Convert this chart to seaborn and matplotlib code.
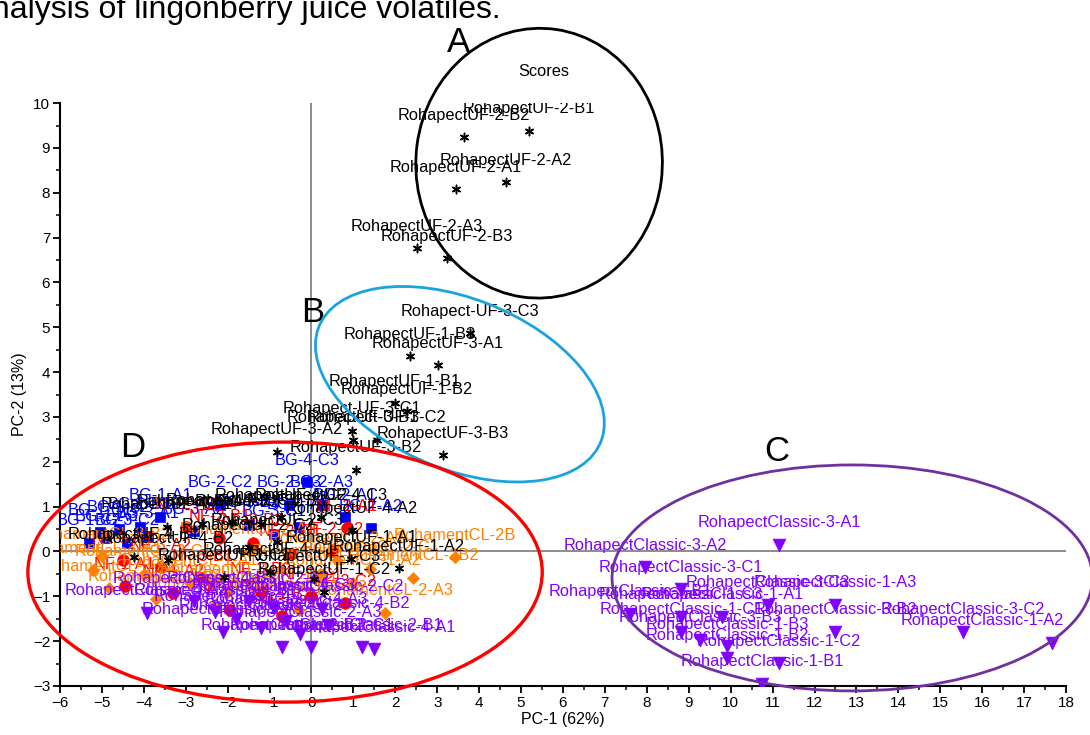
import matplotlib.pyplot as plt
import pandas as pd
import seaborn as sns
from matplotlib.patches import Ellipse
from matplotlib.ticker import MultipleLocator

# Scores (PC-1, PC-2), one block per sample series

bg_names = [
    "BG-4-C3", "BG-2-A3", "BG-2-A1", "BG-2-A2", "BG-2-C2", "BG-2-C3",
    "BG-1-A1", "BG-1-B1", "BG-1-B2", "BG-1-C1", "BG-1-C2", "BG-1-A3",
    "BG-3-A1", "BG-3-A2", "BG-3-B1", "BG-3-C1", "BG-3-C2", "BG-4-A1",
]
bg_pc1 = [-0.11, 0.25, 0.80, 1.42, -2.18, -0.54, -3.61, -4.10, -4.60, -5.05,
          -5.30, -4.90, -3.90, -2.80, -1.50, -0.90, -4.40, -0.30]
bg_pc2 = [1.55, 1.04, 0.77, 0.52, 1.04, 1.04, 0.77, 0.55, 0.50, 0.43,
          0.20, 0.30, 0.35, 0.45, 0.60, 0.40, 0.20, 0.55]

nf_names = [
    "NF-1-A1", "NF-1-A2", "NF-1-B1", "NF-1-B2", "NF-2-A1", "NF-2-A2",
    "NF-2-B1", "NF-2-B2", "NF-2-C1", "NF-2-C2", "NF-3-A1", "NF-3-A2",
    "NF-3-B1", "NF-3-B2", "NF-3-C1", "NF-3-C2",
]
nf_pc1 = [-4.46, -3.30, -1.95, -0.70, 0.85, -3.00, -2.20, -1.40, -0.50, 0.50,
          -4.50, -3.60, -2.60, -1.20, 0.00, 0.80]
nf_pc2 = [-0.78, -0.93, -1.30, -1.45, 0.52, 0.55, 0.30, 0.20, -0.05, 0.00,
          -0.20, -0.35, -0.60, -0.90, -1.00, -1.15]

cl_names = [
    "RohamentCL-2B", "RohamentCL-2B2", "RohamentCL-2-A3", "RohamentCL-3-A1",
    "RohamentCL-3-A2", "RohamentCL-3-B1", "RohamentCL-3-B2", "RohamentCL-3-C1",
    "RohamentCL-1-A1", "RohamentCL-1-A3", "RohamentCL-1-B1", "RohamentCL-1-B2",
    "RohamentCL-1-A2", "RohamentCL-2-A1", "RohamentCL-2-C1", "RohamentCL-2-C2",
    "RohamentCL-1-C1", "RohamentCL-2-A2",
]
cl_pc1 = [3.43, 2.43, 1.75, -5.20, -4.82, -3.70, -5.00, -4.00, -2.90, -2.00,
          -1.00, 0.20, 1.00, 0.60, 1.40, -0.30, -2.30, -1.50]
cl_pc2 = [-0.13, -0.59, -1.37, -0.42, -0.82, -1.05, -0.10, -0.50, -0.70, -0.90,
          -1.10, -0.50, -0.70, -0.20, -0.40, -1.30, -1.20, 0.00]

classic_names = [
    # group D
    "RohapectClassic-4-A2", "RohapectClassic-2-A1", "RohapectClassic-2-B2",
    "RohapectClassic-2-C1", "RohapectClassic-2-B1", "RohapectClassic-4-A1",
    "RohapectClassic-4-B2", "RohapectClassic-2-C2", "RohapectClassic-2-A3",
    "RohapectClassic-4-B1", "RohapectClassic-4-C1", "RohapectClassic-4-C2",
    "RohapectClassic-4-A3", "RohapectClassic-4-B3", "RohapectClassic-2-A2",
    "RohapectClassic-4-C3",
    # group C
    "RohapectClassic-3-A1", "RohapectClassic-3-A2", "RohapectClassic-3-C1",
    "RohapectClassic-3-C3", "RohapectClassic-1-A3", "RohapectClassic-3-B1",
    "RohapectClassic-1-C3", "RohapectClassic-1-A1", "RohapectClassic-3-B2",
    "RohapectClassic-3-C2", "RohapectClassic-1-C1", "RohapectClassic-3-B3",
    "RohapectClassic-1-B3", "RohapectClassic-1-B2", "RohapectClassic-1-C2",
    "RohapectClassic-1-B1", "RohapectClassic-1-A2",
]
classic_pc1 = [-3.93, -2.11, -0.70, 0.00, 1.20, 1.49, 0.40, 0.25, -0.27, -2.30,
               -1.80, -1.20, -0.60, -2.80, -1.50, -0.90,
               11.16, 7.96, 8.82, 10.89, 12.49, 7.60, 8.82, 9.80, 12.49, 15.55,
               8.82, 9.27, 9.92, 9.92, 11.16, 10.75, 17.67]
classic_pc2 = [-1.37, -1.79, -2.13, -2.13, -2.14, -2.18, -1.65, -1.28, -1.84, -1.35,
               -1.50, -1.70, -1.55, -1.10, -1.10, -1.25,
               0.15, -0.35, -0.84, -1.19, -1.19, -1.39, -1.46, -1.46, -1.79, -1.79,
               -1.79, -1.97, -2.11, -2.37, -2.49, -2.95, -2.04]

uf_names = [
    # group A
    "RohapectUF-2-B2", "RohapectUF-2-B1", "RohapectUF-2-A2", "RohapectUF-2-A1",
    "RohapectUF-2-A3", "RohapectUF-2-B3",
    # group B
    "Rohapect-UF-3-C3", "RohapectUF-1-B3", "RohapectUF-3-A1", "RohapectUF-1-B1",
    "RohapectUF-1-B2", "Rohapect-UF-3-C1", "RohapectUF-3-B1", "Rohapect-UF-3-C2",
    "RohapectUF-3-A2", "RohapectUF-3-B3", "RohapectUF-3-B2",
    # group D
    "RohapectUF-4-A1", "RohapectUF-4-B1", "RohapectUF-4-B2", "RohapectUF-4-A3",
    "RohapectUF-2-C1", "RohapectUF-4-B3", "RohapectUF-4-C2", "RohapectUF-4-C3",
    "RohapectUF-2-C3", "RohapectUF-4-A2", "RohapectUF-2-C2", "RohapectUF-1-C1",
    "RohapectUF-1-A1", "RohapectUF-1-A2", "RohapectUF-1-C3", "RohapectUF-1-C2",
    "RohapectUF-4-C1",
]
uf_pc1 = [3.64, 5.19, 4.64, 3.45, 2.52, 3.23,
          3.78, 2.35, 3.02, 1.99, 2.28, 0.97, 0.99, 1.56, -0.82, 3.14, 1.06,
          -3.45, -4.23, -3.42, -2.60, -1.90, -1.20, -0.73, 0.23, -0.82, 0.97,
          -1.50, -2.09, 0.95, 2.09, 0.06, 0.30, -1.00]
uf_pc2 = [9.24, 9.38, 8.24, 8.08, 6.76, 6.54,
          4.87, 4.36, 4.16, 3.31, 3.13, 2.69, 2.49, 2.49, 2.22, 2.15, 1.82,
          0.55, -0.12, -0.19, 0.62, 0.65, 0.62, 0.77, 0.77, 0.21, 0.48,
          0.10, -0.57, -0.17, -0.37, -0.61, -0.90, -0.45]

# labels that Origin placed away from their point (offset points)
label_nudge = {"RohapectClassic-1-A2": (-50, 0)}

series = [
    (bg_names, bg_pc1, bg_pc2, "#0000FF", "s", 45),
    (nf_names, nf_pc1, nf_pc2, "#FF0000", "o", 70),
    (cl_names, cl_pc1, cl_pc2, "#FF8000", "D", 38),
    (classic_names, classic_pc1, classic_pc2, "#8000FF", "v", 85),
    (uf_names, uf_pc1, uf_pc2, "#000000", (6, 2, 0), 36),
]

sns.set_style("ticks")
plt.rcParams["font.family"] = ["Liberation Sans", "DejaVu Sans"]
plt.rcParams["text.color"] = "black"
plt.rcParams["axes.labelcolor"] = "black"

fig = plt.figure(figsize=(10.9, 7.35), dpi=100)
ax = fig.add_axes([0.055, 0.0667, 0.923, 0.793])

ax.axhline(0, color="#8c8c8c", lw=1.4, zorder=1)
ax.axvline(0, color="#8c8c8c", lw=1.4, zorder=1)

for i, (names, pc1, pc2, color, marker, size) in enumerate(series):
    df = pd.DataFrame({"PC-1": pc1, "PC-2": pc2, "sample": names})
    if marker == (6, 2, 0):
        sns.scatterplot(data=df, x="PC-1", y="PC-2", ax=ax, marker=marker,
                        color=color, s=size, linewidth=1.1, zorder=3 + i)
    else:
        sns.scatterplot(data=df, x="PC-1", y="PC-2", ax=ax, marker=marker,
                        color=color, s=size, edgecolor=color, linewidth=0.5,
                        zorder=3 + i)
    for name, x, y in zip(names, pc1, pc2):
        dx, dy = label_nudge.get(name, (0, 0))
        ax.annotate(name, (x, y), xytext=(dx, 15.8 + dy), textcoords="offset points",
                    ha="center", va="center", fontsize=11.8, color=color,
                    zorder=3 + i, annotation_clip=False, clip_on=True)

# cluster ellipses
ellipses = [
    ((5.43, 8.66), 5.88, 6.02, -8, "black", 2.0),
    ((3.54, 3.73), 7.2, 3.83, -20, "#1BA3E0", 2.0),
    ((12.9, -0.59), 11.46, 5.04, 0, "#7030A0", 2.0),
    ((-0.63, -0.46), 12.27, 5.8, 0, "#FF0000", 2.4),
]
for center, w, h, ang, col, lw in ellipses:
    ax.add_patch(Ellipse(center, w, h, angle=ang, fill=False, edgecolor=col,
                         lw=lw, clip_on=False, zorder=10))

for letter, x, y in [("A", 3.50, 11.36), ("B", 0.04, 5.32), ("C", 11.11, 2.22),
                     ("D", -4.26, 2.33)]:
    ax.text(x, y, letter, fontsize=25, ha="center", va="center", clip_on=False)
ax.text(5.53, 10.71, "Scores", fontsize=11.8, ha="center", va="center", clip_on=False)

ax.set_xlim(-6, 18)
ax.set_ylim(-3, 10)
ax.xaxis.set_major_locator(MultipleLocator(1))
ax.xaxis.set_minor_locator(MultipleLocator(0.5))
ax.yaxis.set_major_locator(MultipleLocator(1))
ax.yaxis.set_minor_locator(MultipleLocator(0.5))
ax.tick_params(which="major", direction="out", length=5, width=1.3, labelsize=11,
               color="black", labelcolor="black", pad=2)
ax.tick_params(which="minor", direction="out", length=3, width=1.1, color="black")
ax.set_xlabel("PC-1 (62%)", fontsize=11.5, labelpad=2)
ax.set_ylabel("PC-2 (13%)", fontsize=11.5, labelpad=4)
sns.despine(ax=ax)
for side in ("left", "bottom"):
    ax.spines[side].set_color("black")
    ax.spines[side].set_linewidth(1.5)

fig.text(-0.024, 1 - 18 / 735, "analysis of lingonberry juice volatiles.",
         fontsize=23, ha="left", va="baseline", color="black")

fig.savefig("out.png", dpi=100)
